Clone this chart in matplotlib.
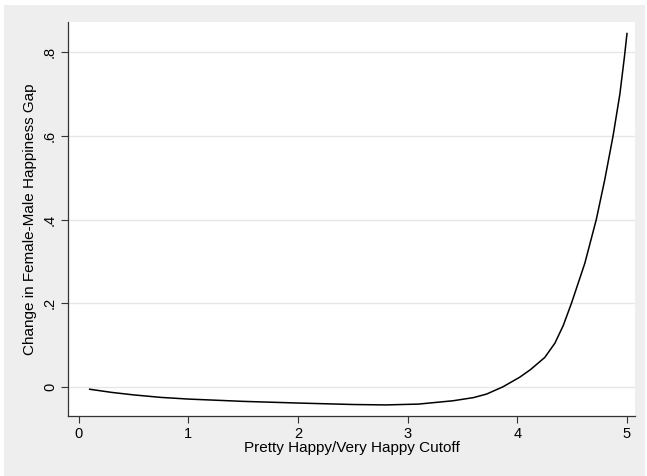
import matplotlib
matplotlib.use("Agg")
import matplotlib.pyplot as plt
from matplotlib.patches import Rectangle

# values
cutoff = [0.1, 0.3, 0.5, 0.75, 1.0, 1.5, 2.0, 2.5, 2.8, 3.1, 3.415, 3.6,
          3.72, 3.87, 4.023, 4.12, 4.25, 4.342, 4.418, 4.494, 4.615, 4.72,
          4.797, 4.873, 4.935, 4.977, 5.0]
gap_change = [-0.006, -0.0135, -0.0195, -0.0255, -0.0295, -0.035, -0.039,
              -0.0425, -0.0435, -0.0415, -0.0335, -0.026, -0.0175, 0.0,
              0.023, 0.041, 0.070, 0.104, 0.146, 0.2, 0.295, 0.4, 0.495,
              0.6, 0.70, 0.79, 0.845]

x_ticks = [0, 1, 2, 3, 4, 5]
y_ticks = [0, 0.2, 0.4, 0.6, 0.8]
y_tick_labels = ['0', '.2', '.4', '.6', '.8']

BG = '#EEEEEE'
plt.rcParams['font.family'] = ['Liberation Sans', 'DejaVu Sans']

fig = plt.figure(figsize=(6.47, 4.76), dpi=100, facecolor='white')
# stata-style grey graph region
fig.patches.append(Rectangle((4 / 647, 0), 641 / 647, (476 - 5) / 476,
                             transform=fig.transFigure, facecolor=BG,
                             edgecolor='none', zorder=-10))
ax = fig.add_axes([68 / 647, 60 / 476, 567 / 647, 394 / 476])
ax.set_facecolor('white')

ax.plot(cutoff, gap_change, color='black', lw=1.1, solid_joinstyle='round')

ax.set_xlim(-0.0975, 5.073)
ax.set_ylim(-0.070, 0.8725)
ax.set_xticks(x_ticks)
ax.set_yticks(y_ticks)
ax.set_yticklabels(y_tick_labels, rotation=90, va='center')
ax.tick_params(axis='both', direction='out', length=5, width=0.8,
               color='#333333', labelsize=10.5, pad=3)
ax.grid(axis='y', color='#E6E6E6', lw=1)
ax.set_axisbelow(True)

for s in ['top', 'right']:
    ax.spines[s].set_visible(False)
for s in ['left', 'bottom']:
    ax.spines[s].set_color('#333333')
    ax.spines[s].set_linewidth(0.9)

ax.set_xlabel('Pretty Happy/Very Happy Cutoff', fontsize=11, labelpad=0)
ax.set_ylabel('Change in Female-Male Happiness Gap', fontsize=11, labelpad=4)

fig.savefig('out.png', dpi=100, facecolor=fig.get_facecolor())
